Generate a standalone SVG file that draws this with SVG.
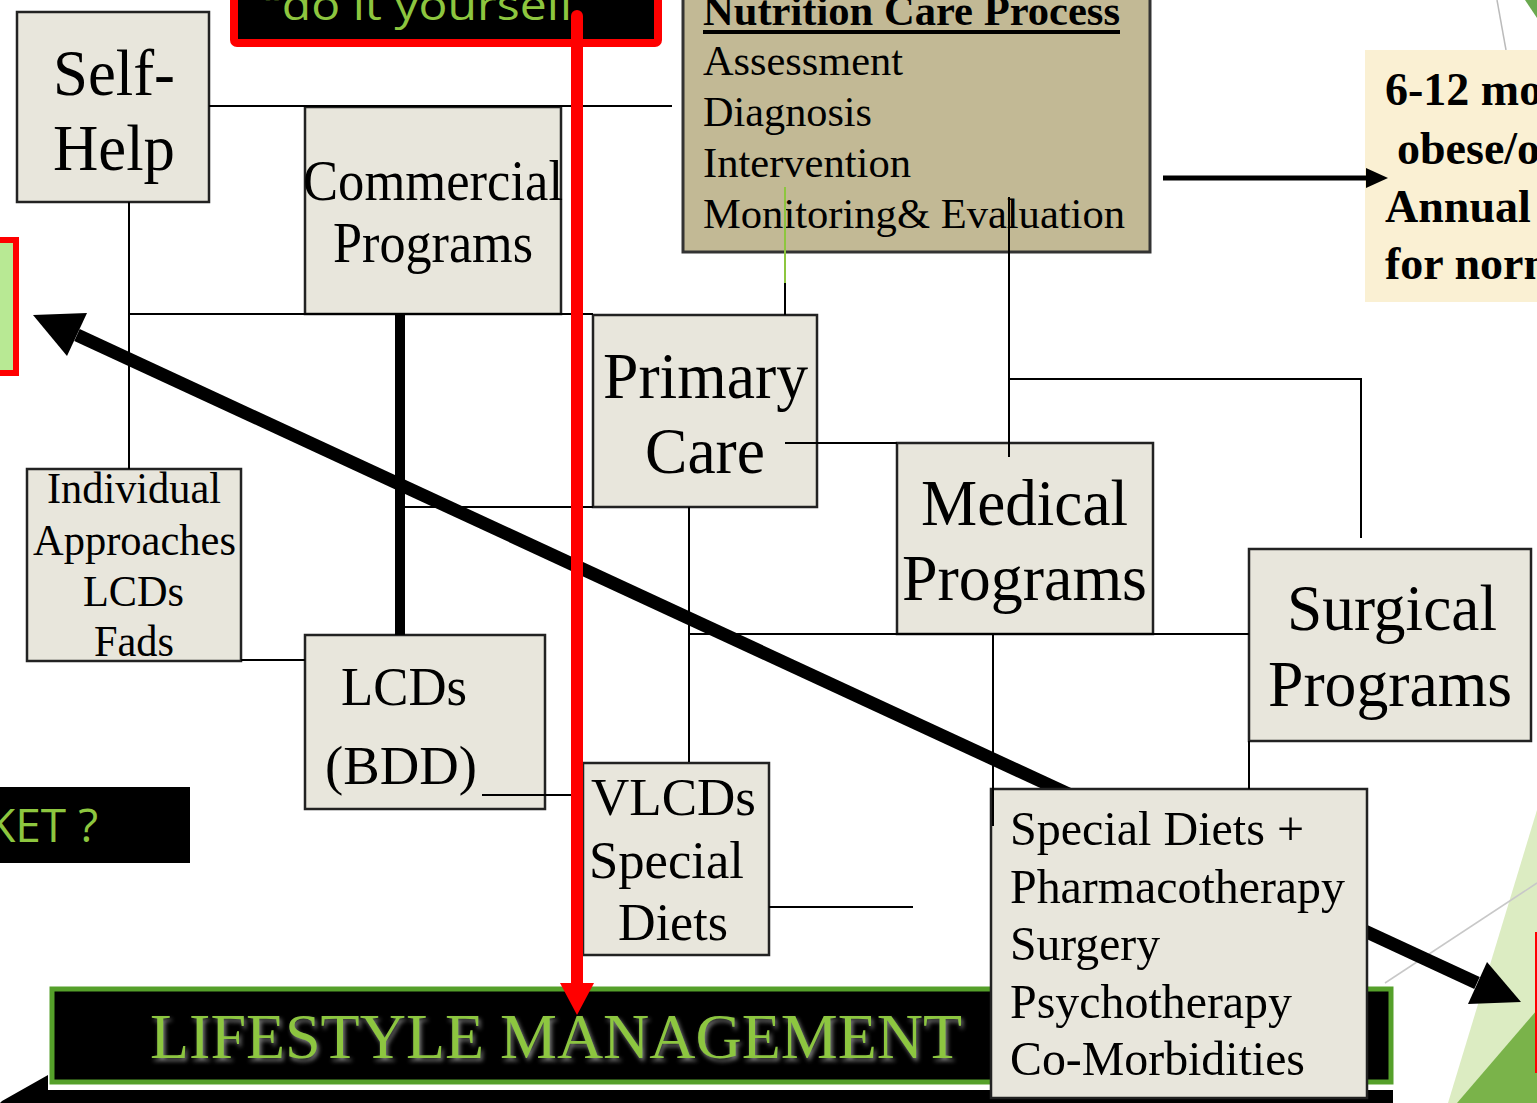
<svg xmlns="http://www.w3.org/2000/svg" width="1537" height="1103" viewBox="0 0 1537 1103">
<defs>
<style>
.box{fill:#e8e6dc;stroke:#222;stroke-width:2.5}
.t{font-family:"Liberation Serif","Times New Roman",serif;fill:#000}
.c{stroke:#000;stroke-width:2;fill:none}
.g{font-family:"Open Sans","DejaVu Sans",sans-serif;fill:#8dc63f}
</style>
<filter id="glow" x="-5%" y="-20%" width="110%" height="150%">
<feDropShadow dx="2" dy="3" stdDeviation="2" flood-color="#9a9a9a" flood-opacity="0.8"/>
</filter>
</defs>
<rect width="1537" height="1103" fill="#fff"/>

<g id="decor">
<line x1="1497" y1="0" x2="1506" y2="50" stroke="#bbb" stroke-width="1.5"/>
<polygon points="1525,0 1537,0 1537,18" fill="#6aa84f"/>
<polygon points="1537,810 1448,1103 1537,1103" fill="#dcecc2"/>
<polygon points="1537,1010 1457,1103 1537,1103" fill="#7ab34a"/>
<line x1="1385" y1="983" x2="1537" y2="883" stroke="#c8c8c8" stroke-width="1.5"/>
<line x1="1536" y1="932" x2="1536" y2="1073" stroke="#f00" stroke-width="2"/>
</g>

<g id="diy">
<rect x="234" y="-10" width="424" height="53" rx="3" fill="#000" stroke="#f00" stroke-width="8"/>
<text class="g" x="265" y="20" font-size="42" textLength="310" lengthAdjust="spacingAndGlyphs">“do it yourself</text>
</g>

<g id="green-box">
<rect x="-10" y="240" width="26" height="133" fill="#b8e994" stroke="#f00" stroke-width="6"/>
</g>

<g id="ket">
<rect x="0" y="787" width="190" height="76" fill="#000"/>
<text class="g" x="98" y="842" font-size="46" text-anchor="end">KET ?</text>
</g>

<g id="yellow">
<rect x="1365" y="50" width="180" height="252" fill="#faf0d3"/>
<g class="t" font-weight="bold" font-size="46">
<text x="1385" y="105">6-12 mo</text>
<text x="1397" y="164">obese/o</text>
<text x="1385" y="222">Annual</text>
<text x="1385" y="279">for norm</text>
</g>
</g>

<g id="diagonal-arrow">
<line x1="77" y1="335" x2="1477" y2="983" stroke="#000" stroke-width="13"/>
<polygon points="33,315 87,313 67,356" fill="#000"/>
<polygon points="1521,1002 1468,1004 1487,962" fill="#000"/>
</g>

<g id="lifestyle">
<polygon points="0,1103 2,1101 48,1075 48,1090 1393,1090 1393,1103" fill="#000"/>
<rect x="52" y="989" width="1339" height="93" fill="#000" stroke="#55a02a" stroke-width="5"/>
<text class="t" x="150" y="1058" font-size="64" fill="#8dc63f" style="fill:#8dc63f" textLength="812" lengthAdjust="spacingAndGlyphs" filter="url(#glow)">LIFESTYLE MANAGEMENT</text>
</g>

<g id="ncp">
<rect x="683" y="-10" width="467" height="262" fill="#c2b995" stroke="#333" stroke-width="3"/>
<g class="t" font-size="42">
<text x="703" y="25" font-weight="bold" textLength="417" lengthAdjust="spacingAndGlyphs">Nutrition Care Process</text>
<rect x="703" y="30" width="417" height="4" fill="#000"/>
<text x="703" y="75" textLength="200" lengthAdjust="spacingAndGlyphs">Assessment</text>
<text x="703" y="126" textLength="169" lengthAdjust="spacingAndGlyphs">Diagnosis</text>
<text x="703" y="177" textLength="208" lengthAdjust="spacingAndGlyphs">Intervention</text>
<text x="703" y="228" textLength="422" lengthAdjust="spacingAndGlyphs">Monitoring&amp; Evaluation</text>
</g>
</g>

<g id="self-help">
<rect class="box" x="17" y="12" width="192" height="190"/>
<g class="t" font-size="66">
<text x="53" y="95" textLength="122" lengthAdjust="spacingAndGlyphs">Self-</text>
<text x="53" y="170" textLength="122" lengthAdjust="spacingAndGlyphs">Help</text>
</g>
</g>

<g id="commercial">
<rect class="box" x="305" y="107" width="256" height="207"/>
<g class="t" font-size="56">
<text x="303" y="200" textLength="260" lengthAdjust="spacingAndGlyphs">Commercial</text>
<text x="333" y="262" textLength="200" lengthAdjust="spacingAndGlyphs">Programs</text>
</g>
</g>

<g id="primary-care">
<rect class="box" x="593" y="315" width="224" height="192"/>
<g class="t" font-size="66">
<text x="603" y="398" textLength="205" lengthAdjust="spacingAndGlyphs">Primary</text>
<text x="645" y="473" textLength="120" lengthAdjust="spacingAndGlyphs">Care</text>
</g>
</g>

<g id="medical">
<rect class="box" x="897" y="443" width="256" height="191"/>
<g class="t" font-size="66">
<text x="921" y="525" textLength="207" lengthAdjust="spacingAndGlyphs">Medical</text>
<text x="902" y="600" textLength="245" lengthAdjust="spacingAndGlyphs">Programs</text>
</g>
</g>

<g id="surgical">
<rect class="box" x="1249" y="549" width="282" height="192"/>
<g class="t" font-size="66">
<text x="1287" y="630" textLength="210" lengthAdjust="spacingAndGlyphs">Surgical</text>
<text x="1268" y="706" textLength="244" lengthAdjust="spacingAndGlyphs">Programs</text>
</g>
</g>

<g id="individual">
<rect class="box" x="27" y="469" width="214" height="192"/>
<g class="t" font-size="44">
<text x="47" y="503" textLength="174" lengthAdjust="spacingAndGlyphs">Individual</text>
<text x="33" y="555" textLength="203" lengthAdjust="spacingAndGlyphs">Approaches</text>
<text x="83" y="606" textLength="101" lengthAdjust="spacingAndGlyphs">LCDs</text>
<text x="94" y="656" textLength="80" lengthAdjust="spacingAndGlyphs">Fads</text>
</g>
</g>

<g id="lcds">
<rect class="box" x="305" y="635" width="240" height="174"/>
<g class="t" font-size="54">
<text x="341" y="705" textLength="126" lengthAdjust="spacingAndGlyphs">LCDs</text>
<text x="325" y="784" textLength="152" lengthAdjust="spacingAndGlyphs">(BDD)</text>
</g>
</g>

<g id="vlcds">
<rect class="box" x="583" y="763" width="186" height="192"/>
<g class="t" font-size="52">
<text x="591" y="815" textLength="165" lengthAdjust="spacingAndGlyphs">VLCDs</text>
<text x="589" y="878" textLength="155" lengthAdjust="spacingAndGlyphs">Special</text>
<text x="618" y="940" textLength="110" lengthAdjust="spacingAndGlyphs">Diets</text>
</g>
</g>

<g id="special-diets">
<rect class="box" x="991" y="789" width="376" height="309"/>
<g class="t" font-size="49">
<text x="1010" y="845" textLength="294" lengthAdjust="spacingAndGlyphs">Special Diets +</text>
<text x="1010" y="903" textLength="335" lengthAdjust="spacingAndGlyphs">Pharmacotherapy</text>
<text x="1010" y="960" textLength="150" lengthAdjust="spacingAndGlyphs">Surgery</text>
<text x="1010" y="1018" textLength="282" lengthAdjust="spacingAndGlyphs">Psychotherapy</text>
<text x="1010" y="1075" textLength="295" lengthAdjust="spacingAndGlyphs">Co-Morbidities</text>
</g>
</g>

<g id="connectors">
<path class="c" d="M209 106H672"/>
<path class="c" d="M129 202V469"/>
<path class="c" d="M130 314H593"/>
<path d="M400 314V635" stroke="#000" stroke-width="10"/>
<path class="c" d="M400 507H593"/>
<path d="M785 187V283" stroke="#8dc63f" stroke-width="2"/>
<path class="c" d="M785 283V315"/>
<path class="c" d="M1009 197V457"/>
<path class="c" d="M1009 379H1361V538"/>
<path class="c" d="M785 443H897"/>
<path class="c" d="M689 507V762"/>
<path class="c" d="M689 634H1249"/>
<path class="c" d="M993 634V826"/>
<path class="c" d="M1249 741V789"/>
<path class="c" d="M241 660H305"/>
<path class="c" d="M482 795H575"/>
<path class="c" d="M769 907H913"/>
<path d="M1163 178H1368" stroke="#000" stroke-width="5"/>
<polygon points="1388,178 1366,168 1366,188" fill="#000"/>
<path d="M577 16V988" stroke="#f00" stroke-width="12" stroke-linecap="round"/>
<polygon points="560,983 594,983 577,1015" fill="#f00"/>
</g>
</svg>
